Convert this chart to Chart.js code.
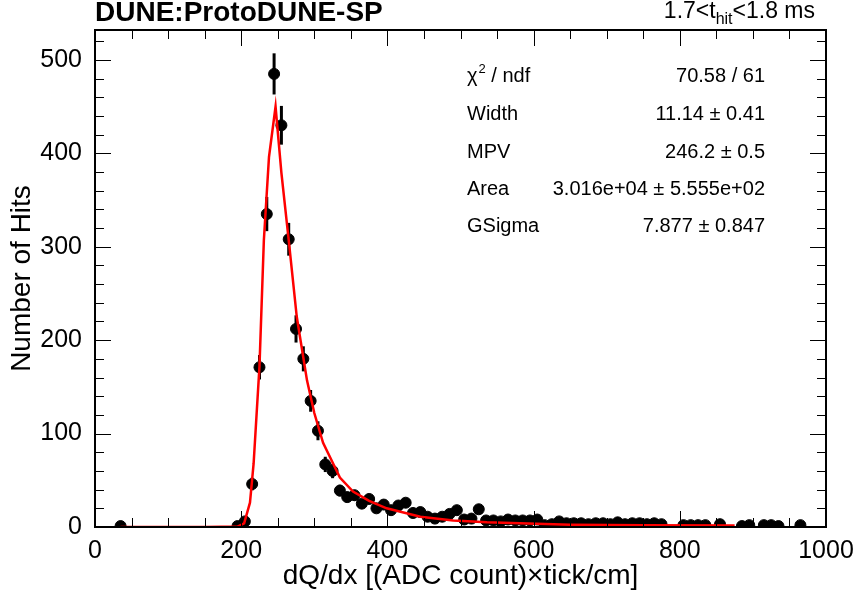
<!DOCTYPE html>
<html>
<head>
<meta charset="utf-8">
<script src="https://cdn.jsdelivr.net/npm/chart.js@4.4.0/dist/chart.umd.min.js"></script>
<style>
  html, body { margin: 0; padding: 0; background: #fff; }
  #wrap { width: 858px; height: 598px; }
</style>
</head>
<body>
<div id="wrap"><canvas id="dedx" width="858" height="598"></canvas></div>
<script>
// histogram: bin centres (dQ/dx) and hit counts
const binCentres = [35, 195, 205, 215, 225, 235, 245, 255, 265, 275, 285, 295, 305, 315, 325, 335,
  345, 355, 365, 375, 385, 395, 405, 415, 425, 435, 445, 455, 465, 475, 485, 495, 505, 515, 525,
  535, 545, 555, 565, 575, 585, 595, 605, 615, 625, 635, 645, 655, 665, 675, 685, 695, 705, 715,
  725, 735, 745, 755, 765, 775, 805, 815, 825, 835, 855, 885, 895, 915, 925, 935, 965];
const hitCounts = [1, 1, 6, 46, 171, 335, 485, 430, 308, 212, 180, 135, 103, 67, 60, 39,
  32, 34, 25, 30, 20, 24, 18, 23, 26, 15, 16, 11, 9, 11, 14, 18, 8, 9, 19,
  7, 7, 6, 8, 7, 7, 7, 8, 2, 3, 6, 4, 4, 4, 3, 4, 4, 3, 5,
  3, 4, 4, 3, 4, 3, 2, 2, 2, 2, 3, 1, 2, 2, 2, 1, 2];

// Landau (x) Gaussian fit, sampled along the drawn red curve
const fitX = [35, 150, 195, 204, 212, 217, 225, 231, 238, 247, 255, 265, 276, 290, 300, 312,
  335, 353, 375, 399, 445, 490, 536, 581, 650, 750, 875];
const fitY = [0, 0, 0.5, 4, 26, 68, 172, 307, 396, 450, 379, 307, 225, 157, 122, 90,
  53, 38, 28, 20, 11, 7, 5, 4, 2.5, 2, 1.5];

const xTicks = [0, 200, 400, 600, 800, 1000];
const yTicks = [0, 100, 200, 300, 400, 500];

const statLabels = ['χ2 / ndf', 'Width', 'MPV', 'Area', 'GSigma'];
const statValues = ['70.58 / 61', '11.14 ± 0.41', '246.2 ± 0.5', '3.016e+04 ± 5.555e+02', '7.877 ± 0.847'];

const FONT = '"Liberation Sans", Arial, Helvetica, sans-serif';

// vertical Poisson error bars under the markers
const errorBars = {
  id: 'errorBars',
  beforeDatasetsDraw(chart) {
    const { ctx, scales: { x, y } } = chart;
    ctx.save();
    ctx.strokeStyle = '#000';
    ctx.lineWidth = 3;
    binCentres.forEach((bx, i) => {
      const n = hitCounts[i];
      const e = Math.sqrt(n);
      const px = x.getPixelForValue(bx);
      ctx.beginPath();
      ctx.moveTo(px, y.getPixelForValue(Math.max(0, n - e)));
      ctx.lineTo(px, y.getPixelForValue(n + e));
      ctx.stroke();
    });
    ctx.restore();
  }
};

// ROOT-like frame with inward ticks on all four sides, plus the texts
const frameAndText = {
  id: 'frameAndText',
  afterDraw(chart) {
    const { ctx, chartArea: a, scales: { x, y } } = chart;
    ctx.save();
    ctx.strokeStyle = '#000';
    ctx.lineWidth = 1;
    ctx.beginPath();
    for (let v = 0; v <= 1000; v += 50) {
      const px = Math.round(x.getPixelForValue(v)) + 0.5;
      const len = v % 200 === 0 ? 16 : 9;
      ctx.moveTo(px, a.bottom); ctx.lineTo(px, a.bottom - len);
      ctx.moveTo(px, a.top); ctx.lineTo(px, a.top + len);
    }
    for (let v = 0; v <= 532; v += 20) {
      const py = Math.round(y.getPixelForValue(v)) + 0.5;
      const len = v % 100 === 0 ? 16 : 9;
      ctx.moveTo(a.left, py); ctx.lineTo(a.left + len, py);
      ctx.moveTo(a.right, py); ctx.lineTo(a.right - len, py);
    }
    ctx.stroke();
    ctx.lineWidth = 2;
    ctx.strokeRect(a.left, a.top, a.right - a.left, a.bottom - a.top);

    // title
    ctx.fillStyle = '#000';
    ctx.textBaseline = 'alphabetic';
    ctx.textAlign = 'left';
    ctx.font = 'bold 28px ' + FONT;
    ctx.fillText('DUNE:ProtoDUNE-SP', 95, 21);

    // time window label, right aligned
    const big = '23px ' + FONT, small = '16px ' + FONT;
    const parts = [['1.7<t', big, 0], ['hit', small, 6], ['<1.8 ms', big, 0]];
    let w = 0;
    parts.forEach(p => { ctx.font = p[1]; w += ctx.measureText(p[0]).width; });
    let cx = 815 - w;
    parts.forEach(p => {
      ctx.font = p[1];
      ctx.fillText(p[0], cx, 18 + p[2]);
      cx += ctx.measureText(p[0]).width;
    });

    // fit statistics
    const rows = [76, 114, 152, 189, 226];
    ctx.textBaseline = 'middle';
    statLabels.forEach((lab, i) => {
      ctx.font = '20px ' + FONT;
      ctx.textAlign = 'left';
      if (i === 0) {
        // chi with a raised 2
        let lx = 467;
        ctx.fillText('χ', lx, rows[i]);
        lx += ctx.measureText('χ').width + 1;
        ctx.font = '13px ' + FONT;
        ctx.fillText('2', lx, rows[i] - 7);
        lx += ctx.measureText('2').width;
        ctx.font = '20px ' + FONT;
        ctx.fillText(' / ndf', lx, rows[i]);
      } else {
        ctx.fillText(lab, 467, rows[i]);
      }
      ctx.textAlign = 'right';
      ctx.fillText(statValues[i], 765, rows[i]);
    });
    ctx.restore();
  }
};

const points = binCentres.map((bx, i) => ({ x: bx, y: hitCounts[i] }));
const fitLine = fitX.map((fx, i) => ({ x: fx, y: fitY[i] }));

new Chart(document.getElementById('dedx'), {
  type: 'scatter',
  data: {
    datasets: [
      {
        label: 'fit',
        data: fitLine,
        showLine: true,
        borderColor: '#ff0000',
        borderWidth: 2.5,
        pointRadius: 0,
        tension: 0,
        order: 0
      },
      {
        label: 'hits',
        data: points,
        backgroundColor: '#000',
        borderColor: '#000',
        pointRadius: 5.5,
        order: 1
      }
    ]
  },
  options: {
    responsive: false,
    animation: false,
    devicePixelRatio: 1,
    layout: { padding: { top: 30, right: 32, left: 0, bottom: 0 } },
    plugins: { legend: { display: false }, tooltip: { enabled: false } },
    scales: {
      x: {
        type: 'linear',
        min: 0,
        max: 1000,
        afterFit: s => { s.height = 71; s.paddingRight = 0; s.paddingLeft = 0; },
        afterBuildTicks: s => { s.ticks = xTicks.map(v => ({ value: v })); },
        grid: { display: false, drawTicks: false },
        border: { display: false },
        ticks: {
          font: { family: FONT, size: 25 }, color: '#000', padding: 9, maxRotation: 0,
          callback: v => String(v)
        },
        title: {
          display: true,
          text: 'dQ/dx [(ADC count)×tick/cm]',
          color: '#000',
          font: { family: FONT, size: 28 },
          padding: { top: 0, bottom: 5 }
        }
      },
      y: {
        type: 'linear',
        min: 0,
        max: 532,
        afterFit: s => { s.width = 95; s.paddingTop = 0; s.paddingBottom = 0; },
        afterBuildTicks: s => { s.ticks = yTicks.map(v => ({ value: v })); },
        grid: { display: false, drawTicks: false },
        border: { display: false },
        ticks: { font: { family: FONT, size: 25 }, color: '#000', padding: 13, callback: v => String(v) },
        title: {
          display: true,
          text: 'Number of Hits',
          color: '#000',
          font: { family: FONT, size: 28 },
          padding: { top: 5, bottom: 0 }
        }
      }
    }
  },
  plugins: [errorBars, frameAndText]
});
</script>
</body>
</html>
